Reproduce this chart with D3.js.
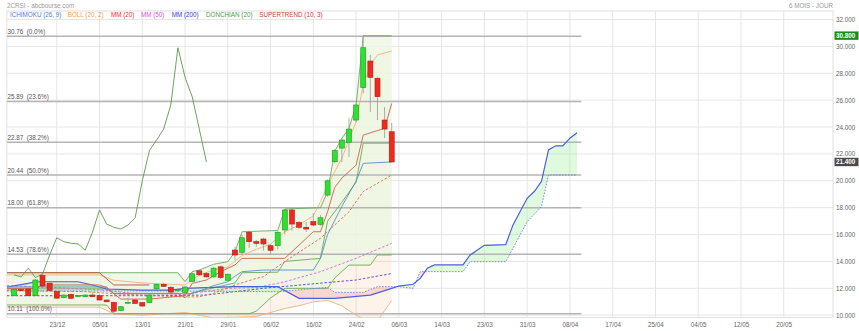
<!DOCTYPE html>
<html><head><meta charset="utf-8">
<script src="https://cdn.jsdelivr.net/npm/d3@7"></script>
<style>
body{margin:0;background:#fff;}
svg{display:block;font-family:"Liberation Sans",Arial,sans-serif;}
</style></head><body>
<svg id="chart" width="859" height="331"></svg>
<script>
// ---- daily candles (bar index 0..53) ----
const opens  = [11.46,11.90,11.95,11.45,12.95,12.38,11.75,11.30,11.55,11.45,11.38,11.50,11.45,11.13,10.95,10.35,10.90,11.13,10.93,10.93,11.97,12.30,12.08,11.90,11.70,12.50,13.30,13.10,12.85,13.60,12.60,14.85,14.68,16.17,15.47,15.67,15.17,15.17,16.34,17.83,16.91,16.54,16.96,16.76,18.94,21.42,22.43,22.86,24.52,26.93,28.91,27.63,24.52,23.65];
const highs  = [11.98,11.95,12.00,12.70,13.10,12.45,11.80,11.55,11.60,11.50,11.55,11.70,11.55,11.15,11.00,10.70,11.30,11.20,11.00,11.55,12.35,12.40,12.15,12.00,12.15,13.20,13.40,13.20,13.60,13.70,13.10,15.10,16.00,16.30,15.60,15.75,15.30,16.25,17.90,17.95,17.00,16.93,17.60,17.45,20.10,22.36,23.18,24.67,25.70,30.80,29.36,27.72,25.49,24.30];
const lows   = [11.40,11.85,11.40,11.40,12.10,11.80,11.20,11.25,11.20,11.40,11.35,11.35,11.10,10.95,10.11,10.30,10.85,10.85,10.65,10.90,11.90,12.10,11.65,11.70,11.65,12.45,12.95,12.80,12.80,12.70,12.50,14.10,14.50,15.00,15.10,14.80,14.50,14.90,16.00,16.30,16.40,16.19,16.60,16.64,18.80,21.30,21.40,21.77,24.37,26.50,25.12,24.52,23.18,21.40];
const closes = [11.91,11.88,11.45,12.62,12.17,11.85,11.27,11.50,11.26,11.45,11.50,11.38,11.13,11.00,10.30,10.63,10.95,10.88,10.68,11.50,12.30,12.15,11.72,11.90,12.10,13.08,13.00,12.85,13.50,12.80,13.05,14.48,15.76,15.47,15.35,15.30,14.83,16.17,17.83,16.78,16.54,16.41,16.71,17.25,20.00,22.24,23.03,23.85,25.64,29.90,27.70,26.26,23.85,21.40];

// ---- axes ----
const dateLabels = ["23/12","05/01","13/01","21/01","29/01","06/02","16/02","24/02","06/03","14/03","23/03","31/03","08/04","17/04","25/04","04/05","12/05","20/05"];
const dateBars   = [6,12,18,24,30,36,42,48,54,60,66,72,78,84,90,96,102,108];
const priceTicks = [10,12,14,16,18,20,22,24,26,28,30,32];

// ---- Fibonacci retracement ----
const fibLevels = [30.76,25.89,22.87,20.44,18.00,14.53,10.11];
const fibNames  = ["30.76  (0.0%)","25.89  (23.6%)","22.87  (38.2%)","20.44  (50.0%)","18.00  (61.8%)","14.53  (78.6%)","10.11  (100.0%)"];

// ---- indicators: [bar, value] vertices ----
const tenkan = [[-1,12.0],[3,12.0],[4,12.25],[12,12.25],[13,12.05],[14,11.6],[15,11.2],[19,11.2],[20,11.25],[24,11.45],[25,12.37],[27,12.62],[29,13.24],[31,13.74],[32,14.23],[38,14.23],[42,16.21],[43,16.21],[44,17.7],[45,19.5],[46,20.2],[48,21.17],[49,23.4],[52,23.9],[53,25.76]];
const kijun = [[-1,12.1],[13,12.1],[14,11.6],[25,11.6],[28,12.2],[30,12.49],[31,12.9],[32,13.24],[35,13.36],[42,13.36],[43,14.23],[44,16.0],[46,18.1],[48,19.98],[49,21.3],[53,21.4]];
const senkouA = [[-1,12.1],[2,12.37],[3,12.49],[9,12.49],[11,12.25],[13,11.95],[18,11.87],[22,11.87],[24,12.0],[31,12.12],[37,12.12],[40,11.25],[45,11.25],[50,11.5],[53,12.0],[54,12.17],[56,12.3],[57,12.74],[58,13.5],[59,13.74],[63,13.74],[64,14.48],[66,15.2],[69,15.25],[70,16.7],[72,18.7],[73,19.2],[74,19.94],[75,22.3],[76,22.6],[77,22.6],[78,23.17],[79,23.58]];
const senkouB = [[-1,11.8],[20,11.8],[37,11.75],[44,12.07],[45,11.7],[49,11.7],[51,12.12],[54,12.12],[56,12.0],[57,13.24],[63,13.24],[64,13.98],[69,13.98],[72,16.96],[74,18.07],[75,20.43],[79,20.43]];
const bollUpper = [[-1,13.0],[12,13.0],[14,12.6],[18,12.4],[24,12.25],[26,13.0],[28,13.36],[30,13.6],[32,14.45],[34,14.9],[36,15.3],[38,16.21],[40,16.71],[42,17.4],[43,18.44],[44,19.69],[46,21.67],[48,24.4],[49,27.13],[50,28.6],[51,29.36],[53,29.66]];
const bollLower = [[-1,10.6],[12,10.6],[14,10.1],[18,10.0],[24,10.2],[26,10.0],[28,9.8],[34,9.9],[38,10.5],[40,10.7],[42,11.0],[44,11.1],[46,10.7],[48,10.0],[50,9.5],[51,9.6],[53,11.1]];
const mm20  = [[-1,11.85],[10,11.75],[14,11.6],[20,11.45],[24,11.35],[26,11.37],[28,11.63],[31,12.25],[34,12.74],[35,12.86],[38,14.0],[43,15.72],[47,17.7],[49,19.2],[53,20.43]];
const mm50  = [[-1,12.2],[12,11.9],[17,11.6],[24,11.55],[30,12.0],[34,12.05],[38,12.49],[43,13.24],[48,14.23],[53,15.35]];
const mm200 = [[-1,11.45],[20,11.45],[27,11.5],[35,12.0],[48,12.62],[53,13.1]];
const donUpper = [[-1,13.16],[23,13.16],[24,12.49],[25,13.24],[26,13.36],[28,13.79],[30,13.98],[31,14.72],[32,16.21],[37,16.3],[38,17.9],[43,18.0],[44,19.19],[45,22.2],[46,23.16],[47,23.9],[48,25.64],[49,30.79],[53,30.79]];
const donMid   = [[-1,11.96],[13,11.96],[14,11.63],[23,11.63],[24,11.3],[25,11.67],[31,12.4],[32,13.16],[37,13.2],[38,14.0],[43,14.23],[44,17.0],[46,18.4],[48,19.9],[49,22.8],[53,22.8]];
const donLower = [[-1,10.76],[13,10.76],[14,10.11],[33,10.11],[34,10.3],[36,11.28],[38,12.0],[44,12.0],[45,12.77],[47,13.73],[50,13.73],[51,14.48],[53,14.48]];
const supertrend = [[-1,13.16],[12,13.16],[14,12.25],[19,12.25]];

const lastPrice = 21.40, topPrice = 30.80;

// ---- scales ----
const svg = d3.select("#chart");
const plotL = 6.9, plotR = 833, plotT = 11, plotB = 317.5;
const x = d3.scaleLinear().domain([0,100]).range([14, 14+712.7]);
const y = d3.scaleLinear().domain([10,32]).range([315.2, 19.5]);

svg.append("defs").append("clipPath").attr("id","plot")
  .append("rect").attr("x",plotL).attr("y",plotT).attr("width",plotR-plotL).attr("height",plotB-plotT);

// grid
const grid = svg.append("g");
grid.selectAll(".vg").data(dateBars).join("line")
  .attr("x1",d=>x(d)).attr("x2",d=>x(d)).attr("y1",plotT).attr("y2",plotB)
  .attr("stroke","#e6e6e6").attr("stroke-width",1);
grid.selectAll(".hg").data(priceTicks).join("line")
  .attr("x1",plotL).attr("x2",plotR).attr("y1",d=>y(d)).attr("y2",d=>y(d))
  .attr("stroke","#e6e6e6").attr("stroke-width",1);
svg.append("rect").attr("x",plotL).attr("y",plotT).attr("width",plotR-plotL).attr("height",plotB-plotT)
  .attr("fill","none").attr("stroke","#e0e0e0");

const plot = svg.append("g").attr("clip-path","url(#plot)");
const line = d3.line().x(d=>x(d[0])).y(d=>y(d[1]));
const band = (up, lo) => line(up.concat(lo.slice().reverse())) + "Z";

// band fills: Bollinger underneath, Donchian channel over it
plot.append("path").attr("d",band(bollUpper,bollLower)).attr("fill","rgba(252,200,160,0.22)");
plot.append("path").attr("d",band(donUpper,donLower)).attr("fill","rgba(236,246,226,0.8)");

// ichimoku cloud: green where span A is above span B, red otherwise
const defs = svg.select("defs");
defs.append("clipPath").attr("id","aboveB").append("path")
  .attr("d", d3.area().x(d=>x(d[0])).y0(0).y1(d=>y(d[1]))(senkouB));
defs.append("clipPath").attr("id","belowB").append("path")
  .attr("d", d3.area().x(d=>x(d[0])).y0(331).y1(d=>y(d[1]))(senkouB));
const cloud = band(senkouA, senkouB);
plot.append("g").attr("clip-path","url(#aboveB)").append("path").attr("d",cloud).attr("fill","rgba(150,240,150,0.3)");
plot.append("g").attr("clip-path","url(#belowB)").append("path").attr("d",cloud).attr("fill","rgba(245,150,150,0.3)");

// fibonacci
const fibEnd = x(79.6);
plot.selectAll(".fib").data(fibLevels).join("line")
  .attr("x1",plotL).attr("x2",fibEnd).attr("y1",d=>y(d)).attr("y2",d=>y(d))
  .attr("stroke","#b4b4b4").attr("stroke-width",1.5);
svg.selectAll(".fibt").data(fibLevels).join("text")
  .attr("x",7.5).attr("y",d=>y(d)-2.3).text((d,i)=>fibNames[i])
  .attr("font-size",6.3).attr("fill","#555").style("white-space","pre");

// indicator lines
function drawLine(data, color, width, dash){
  plot.append("path").attr("d",line(data)).attr("fill","none")
    .attr("stroke",color).attr("stroke-width",width).attr("stroke-dasharray",dash||null);
}
drawLine(bollUpper,"#f2b27a",0.9);
drawLine(bollLower,"#f2b27a",0.9);
drawLine(donUpper,"#6aaa5a",0.9);
drawLine(donMid,"#6aaa5a",0.9);
drawLine(donLower,"#6aaa5a",0.9);
drawLine(mm200,"#4848c8",0.9,"2.5,1.8");
drawLine(mm50,"#e060e0",0.9,"2.5,1.8");
drawLine(mm20,"#e8604a",0.9,"2.5,1.8");
drawLine(senkouB,"#6a7ee8",0.9,"1.6,1.4");
drawLine(senkouA,"#4a5ee0",1.2);
drawLine(kijun,"#5b8fc4",0.9);
drawLine(tenkan,"#d0604a",0.9);
drawLine(supertrend,"#b85040",0.9);

// chikou span: closes displaced 26 bars back
const chikou = closes.slice(26).map((c,i)=>[i,c]);
drawLine(chikou,"#5a9a4a",0.9);

// candles
const bars = closes.map((c,i)=>({i,o:opens[i],h:highs[i],l:lows[i],c}));
const cg = plot.append("g");
cg.selectAll(".wick").data(bars).join("line")
  .attr("x1",d=>x(d.i)).attr("x2",d=>x(d.i)).attr("y1",d=>y(d.h)).attr("y2",d=>y(d.l))
  .attr("stroke","#999").attr("stroke-width",0.8);
cg.selectAll(".body").data(bars).join("rect")
  .attr("x",d=>x(d.i)-2.5).attr("width",5)
  .attr("y",d=>y(Math.max(d.o,d.c)))
  .attr("height",d=>Math.max(0.8,Math.abs(y(d.o)-y(d.c))))
  .attr("fill",d=>d.c>=d.o?"#2fe02f":"#ee2a1e")
  .attr("stroke",d=>d.c>=d.o?"#1f9a1f":"#b01810").attr("stroke-width",0.6);

// x axis labels
const xAxis = d3.axisBottom(x).tickValues(dateBars).tickFormat((d,i)=>dateLabels[i]).tickSize(0).tickPadding(4);
svg.append("g").attr("transform",`translate(0,${plotB+1})`).call(xAxis)
  .call(g=>g.select(".domain").remove())
  .call(g=>g.selectAll("text").attr("font-size",6.3).attr("fill","#666").attr("font-family","Liberation Sans, Arial, sans-serif"));

// y axis labels
const yAxis = d3.axisRight(y).tickValues(priceTicks).tickFormat(d3.format(".3f")).tickSize(0).tickPadding(3);
svg.append("g").attr("transform",`translate(${plotR},0)`).call(yAxis)
  .call(g=>g.select(".domain").remove())
  .call(g=>g.selectAll("text").attr("font-size",6.3).attr("fill","#666").attr("font-family","Liberation Sans, Arial, sans-serif"));

// price tags
function tag(v, bg){
  const g = svg.append("g").attr("transform",`translate(834.5,${y(v)})`);
  g.append("rect").attr("x",0).attr("y",-4.2).attr("width",24).attr("height",8.4).attr("fill",bg);
  g.append("text").attr("x",1.5).attr("y",2.3).text(d3.format(".3f")(v))
    .attr("font-size",6.3).attr("font-weight","bold").attr("fill","#fff");
}
tag(topPrice,"#1e8a1e");
tag(lastPrice,"#4a4a4a");

// header
svg.append("text").attr("x",7).attr("y",8).text("2CRSI - abcbourse.com").attr("font-size",6.3).attr("fill","#999");
svg.append("text").attr("x",833).attr("y",8).attr("text-anchor","end").text("6 MOIS - JOUR").attr("font-size",6.3).attr("fill","#999");

// legend
const legendNames = ["ICHIMOKU (26, 9)","BOLL (20, 2)","MM (20)","MM (50)","MM (200)","DONCHIAN (20)","SUPERTREND (10, 3)"];
const legendColors = ["#4a7fd8","#f0a050","#e83030","#e050e0","#3a3ad0","#4aa04a","#c84040"];
const legendX = [10,67.7,111,141,171.7,206,259.3];
svg.selectAll(".leg").data(legendNames).join("text")
  .attr("x",(d,i)=>legendX[i]).attr("y",17.3).text(d=>d)
  .attr("font-size",6.3).attr("fill",(d,i)=>legendColors[i]);
</script></body></html>
